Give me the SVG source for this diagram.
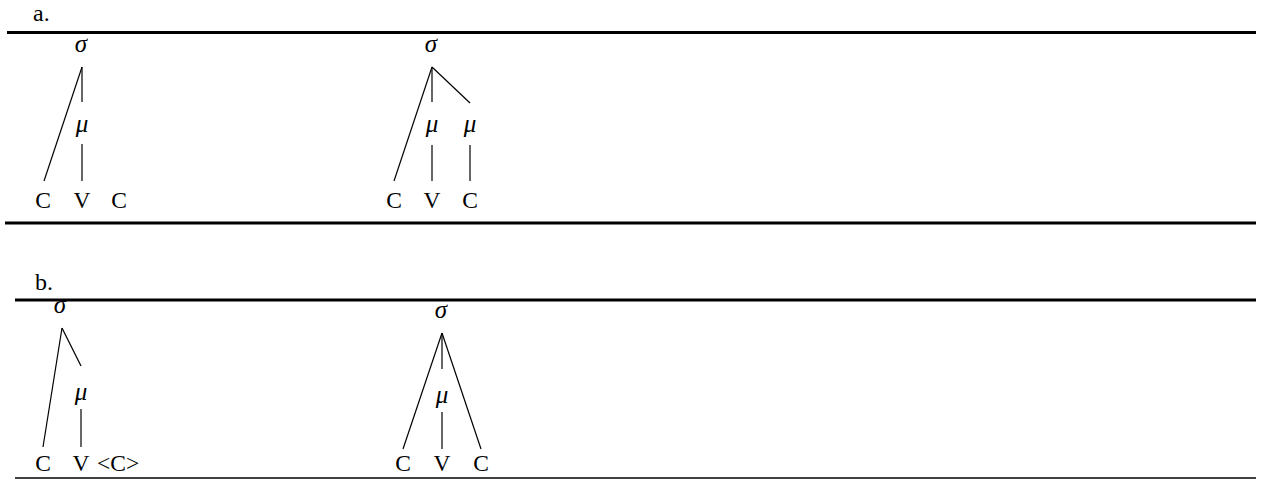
<svg xmlns="http://www.w3.org/2000/svg" width="1264" height="486" viewBox="0 0 1264 486">
  <style>
    text { font-family: "Liberation Serif", "Times New Roman", serif; font-size: 23.5px; fill: #000; }
    .lab { font-size: 24px; }
    .g { font-style: italic; text-anchor: middle; font-size: 25px; }
    .s { text-anchor: middle; }
    .rule { stroke: #000; stroke-width: 3; }
    .thin { stroke: #000; stroke-width: 1.3; }
    .edge { stroke: #000; stroke-width: 1.2; fill: none; }
  </style>
  <rect width="1264" height="486" fill="#fff"/>

  <!-- panel a -->
  <g id="panel-a">
    <text class="lab" x="33" y="21">a.</text>
    <line class="rule" x1="7" y1="32.5" x2="1256" y2="32.5"/>
    <line class="rule" x1="5" y1="223" x2="1256" y2="223"/>
  </g>

  <g id="a1-sigma"><text class="g" x="81" y="52">σ</text></g>
  <g id="a1-mu"><text class="g" x="82" y="132">μ</text></g>
  <g id="a1-segments">
    <text class="s" x="43" y="208">C</text>
    <text class="s" x="82" y="208">V</text>
    <text class="s" x="119" y="208">C</text>
  </g>

  <g id="a2-sigma"><text class="g" x="431" y="52">σ</text></g>
  <g id="a2-mu1"><text class="g" x="432" y="132">μ</text></g>
  <g id="a2-mu2"><text class="g" x="470" y="132">μ</text></g>
  <g id="a2-segments">
    <text class="s" x="394" y="208">C</text>
    <text class="s" x="432" y="208">V</text>
    <text class="s" x="470" y="208">C</text>
  </g>

  <!-- panel b -->
  <g id="panel-b">
    <text class="lab" x="35" y="290">b.</text>
    <line class="rule" x1="15" y1="300" x2="1256" y2="300"/>
    <line class="thin" x1="15" y1="478" x2="1256" y2="478"/>
  </g>

  <g id="b1-sigma"><text class="g" x="60" y="313">σ</text></g>
  <g id="b1-mu"><text class="g" x="81" y="400">μ</text></g>
  <g id="b1-segments">
    <text class="s" x="43" y="471">C</text>
    <text class="s" x="81" y="471">V</text>
    <text x="97" y="471">&lt;C&gt;</text>
  </g>

  <g id="b2-sigma"><text class="g" x="441" y="318">σ</text></g>
  <g id="b2-mu"><text class="g" x="442" y="403">μ</text></g>
  <g id="b2-segments">
    <text class="s" x="403" y="471">C</text>
    <text class="s" x="442" y="471">V</text>
    <text class="s" x="481" y="471">C</text>
  </g>

  <!-- association lines -->
  <g id="connectors" class="edge">
    <line class="edge" x1="82" y1="67" x2="44" y2="181"/>
    <line class="edge" x1="82" y1="67" x2="82" y2="102"/>
    <line class="edge" x1="82" y1="144" x2="82" y2="181"/>

    <line class="edge" x1="432" y1="67" x2="394" y2="181"/>
    <line class="edge" x1="432" y1="67" x2="432" y2="102"/>
    <line class="edge" x1="432" y1="67" x2="470" y2="103"/>
    <line class="edge" x1="432" y1="145" x2="432" y2="181"/>
    <line class="edge" x1="470" y1="145" x2="470" y2="181"/>

    <line class="edge" x1="62" y1="328" x2="43" y2="447"/>
    <line class="edge" x1="62" y1="328" x2="81" y2="366"/>
    <line class="edge" x1="81" y1="409" x2="81" y2="447"/>

    <line class="edge" x1="442" y1="333" x2="403" y2="449"/>
    <line class="edge" x1="442" y1="333" x2="481" y2="449"/>
    <line class="edge" x1="442" y1="333" x2="442" y2="369"/>
    <line class="edge" x1="442" y1="412" x2="442" y2="449"/>
  </g>
</svg>
